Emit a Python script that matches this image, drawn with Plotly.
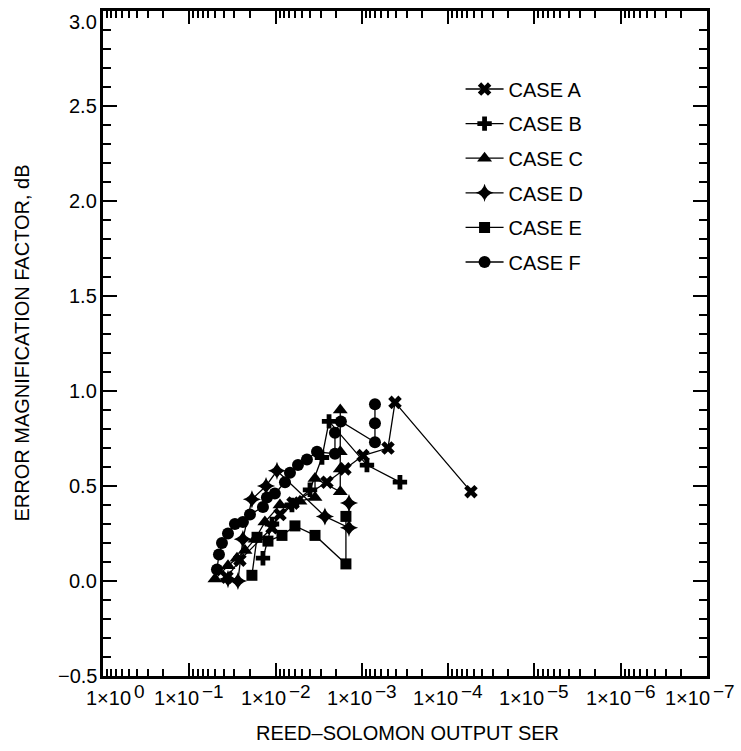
import math
import plotly.graph_objects as go

# ---------------- data ----------------
case_names = ["CASE A", "CASE B", "CASE C", "CASE D", "CASE E", "CASE F"]

a_ser = [0.0366, 0.0259, 0.0110, 0.00889, 0.00629, 0.00254, 0.00157, 0.00097, 0.000498, 0.000413, 0.0000544]
a_db = [0.02, 0.11, 0.28, 0.35, 0.41, 0.52, 0.59, 0.66, 0.70, 0.94, 0.47]

b_ser = [0.0140, 0.0110, 0.00646, 0.00399, 0.00290, 0.00240, 0.000873, 0.000362]
b_db = [0.12, 0.30, 0.40, 0.48, 0.65, 0.84, 0.61, 0.52]

c_ser = [0.0504, 0.0356, 0.0280, 0.0226, 0.0173, 0.0133, 0.00889, 0.00522,
         0.00349, 0.00349, 0.00178, 0.00178, 0.00178, 0.00178]
c_db = [0.01, 0.08, 0.12, 0.16, 0.22, 0.31, 0.40, 0.42, 0.44, 0.54, 0.47, 0.59, 0.68, 0.90]

d_ser = [0.0356, 0.0273, 0.0239, 0.0188, 0.0129, 0.00963, 0.00268, 0.00141, 0.00141]
d_db = [0.01, 0.00, 0.22, 0.43, 0.50, 0.58, 0.34, 0.28, 0.41]

e_ser = [0.0188, 0.0164, 0.01225, 0.00843, 0.00596, 0.00349, 0.00153, 0.00153]
e_db = [0.03, 0.23, 0.21, 0.24, 0.29, 0.24, 0.09, 0.34]

f_ser = [0.0478, 0.0453, 0.0418, 0.0356, 0.0296, 0.0239, 0.0198, 0.0140, 0.0126,
         0.0102, 0.00778, 0.00681, 0.00550, 0.00433, 0.00331, 0.00205, 0.00205,
         0.00175, 0.000705, 0.000705, 0.000705]
f_db = [0.06, 0.14, 0.20, 0.25, 0.30, 0.31, 0.35, 0.39, 0.44, 0.46, 0.52, 0.57,
        0.61, 0.64, 0.68, 0.67, 0.78, 0.84, 0.73, 0.83, 0.93]

x_tick_vals = [1e0, 1e-1, 1e-2, 1e-3, 1e-4, 1e-5, 1e-6, 1e-7]
x_tick_base = "1×10"
x_tick_exps = ["0", "−1", "−2", "−3", "−4", "−5", "−6", "−7"]
y_tick_vals = [-0.5, 0.0, 0.5, 1.0, 1.5, 2.0, 2.5, 3.0]
y_tick_labels = ["−0.5", "0.0", "0.5", "1.0", "1.5", "2.0", "2.5", "3.0"]

x_title = "REED–SOLOMON OUTPUT SER"
y_title = "ERROR MAGNIFICATION FACTOR, dB"

symbols = ["x", "cross", "triangle-up", "star-diamond", "square", "circle"]
sizes = [12, 12, 13, 13, 11, 12]
series = [(a_ser, a_db), (b_ser, b_db), (c_ser, c_db), (d_ser, d_db), (e_ser, e_db), (f_ser, f_db)]

FONT = "Liberation Sans, Arial, Helvetica, sans-serif"

fig = go.Figure()
for name, (xs, ys), sym, sz in zip(case_names, series, symbols, sizes):
    fig.add_trace(go.Scatter(
        x=xs, y=ys, mode="lines+markers", name=name, legendgroup=name,
        line=dict(color="black", width=1.3),
        marker=dict(symbol=sym, size=sz, color="black", line=dict(width=0)),
    ))

minor_x = [m * 10 ** (-k) for k in range(1, 8) for m in range(2, 10)]

axis_common = dict(showline=True, linecolor="black", linewidth=2.5, mirror="ticks",
                   ticks="inside", tickcolor="black", tickwidth=2, showgrid=False,
                   zeroline=False, showticklabels=False)

fig.update_xaxes(type="log", range=[0, -7], tickmode="array", tickvals=x_tick_vals,
                 ticklen=13,
                 minor=dict(tickmode="array", tickvals=minor_x, ticks="inside",
                            ticklen=7, tickwidth=1.5, tickcolor="black", showgrid=False),
                 **axis_common)
fig.update_yaxes(range=[-0.5, 3.0], tickmode="array", tickvals=y_tick_vals, ticklen=14,
                 minor=dict(dtick=0.1, tick0=0, ticks="inside", ticklen=8, tickwidth=1.5,
                            tickcolor="black", showgrid=False),
                 **axis_common)

annotations = []
n = len(x_tick_vals)
for i, (v, ex) in enumerate(zip(x_tick_vals, x_tick_exps)):
    split = 30 if i == 0 else (5 if i == n - 1 else 12)
    annotations.append(dict(x=math.log10(v), xref="x", y=0, yref="paper", yanchor="middle",
                            xanchor="right", xshift=split, yshift=-22, text=x_tick_base,
                            showarrow=False, font=dict(size=20)))
    annotations.append(dict(x=math.log10(v), xref="x", y=0, yref="paper", yanchor="middle",
                            xanchor="left", xshift=split - 1, yshift=-15, text=ex,
                            showarrow=False, font=dict(size=19)))
for i, (v, lab) in enumerate(zip(y_tick_vals, y_tick_labels)):
    ys = -11 if v == y_tick_vals[-1] else 0
    annotations.append(dict(x=0, xref="paper", y=v, yref="y", xanchor="right",
                            yanchor="middle", xshift=-4, yshift=ys, text=lab,
                            showarrow=False, font=dict(size=20)))
annotations.append(dict(x=0.5, xref="paper", y=0, yref="paper", yanchor="middle",
                        xanchor="center", yshift=-57, xshift=2, text=x_title,
                        showarrow=False, font=dict(size=20)))
annotations.append(dict(x=0, xref="paper", y=0.5, yref="paper", xanchor="center",
                        yanchor="middle", xshift=-82, text=y_title, textangle=-90,
                        showarrow=False, font=dict(size=20)))

fig.update_layout(
    width=741, height=751,
    margin=dict(l=103, r=34, t=8, b=75),
    paper_bgcolor="white", plot_bgcolor="white",
    font=dict(family=FONT, size=20, color="black"),
    showlegend=True,
    legend=dict(x=0.592, y=0.912, xanchor="left", yanchor="top", itemwidth=38,
                bgcolor="rgba(0,0,0,0)", borderwidth=0, tracegroupgap=5.6,
                font=dict(size=20, family=FONT, color="black")),
    annotations=annotations,
)

fig.write_html("out.html")
